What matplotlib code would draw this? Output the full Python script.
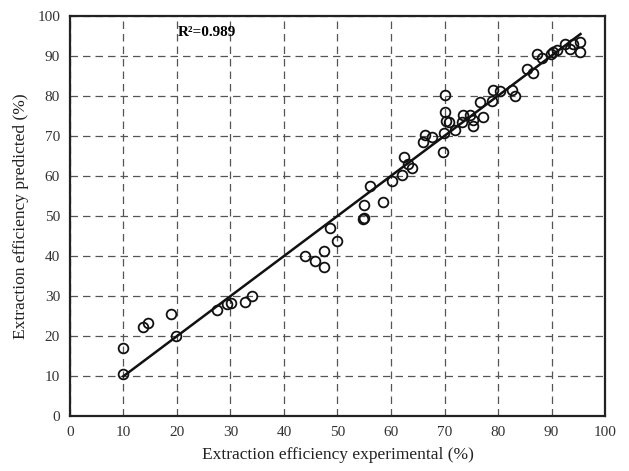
import numpy as np
import matplotlib
matplotlib.use("Agg")
import matplotlib.pyplot as plt

plt.rcParams['font.family'] = ['Liberation Serif', 'DejaVu Serif']

# experimental vs predicted extraction efficiency (%)
exp_vals = [10.0, 10.0, 13.7, 14.6, 18.9, 19.9, 27.5, 29.3, 30.2, 32.8, 34.1,
            44.0, 45.8, 47.4, 47.4, 48.6, 50.0, 54.7, 54.9, 55.0, 56.1, 58.6,
            60.1, 62.0, 62.5, 63.1, 63.9, 66.0, 66.4, 67.6, 69.7, 69.9, 70.1,
            70.1, 70.3, 70.9, 72.0, 73.2, 73.5, 74.8, 75.3, 75.4, 76.6, 77.1,
            78.8, 79.0, 80.4, 82.6, 83.1, 85.4, 86.5, 87.2, 88.2, 89.9, 90.3,
            91.1, 92.5, 93.5, 94.0, 95.3, 95.3]
pred_vals = [10.5, 17.0, 22.2, 23.2, 25.4, 20.1, 26.6, 28.0, 28.3, 28.5, 30.0,
             40.0, 38.8, 41.2, 37.2, 47.0, 43.8, 49.3, 49.5, 52.7, 57.6, 53.6,
             58.7, 60.2, 64.7, 62.9, 62.0, 68.5, 70.2, 69.7, 66.0, 70.8, 80.3,
             76.0, 73.7, 73.5, 71.4, 73.6, 75.2, 75.2, 74.0, 72.5, 78.5, 74.8,
             78.8, 81.6, 81.3, 81.4, 80.0, 86.8, 85.8, 90.6, 89.4, 90.6, 91.0,
             91.4, 92.9, 91.7, 93.1, 93.5, 91.0]

# fitted line end points
fit_x = [10.0, 95.4]
fit_y = [9.9, 95.5]

fig = plt.figure(figsize=(6.29, 4.71), dpi=100)
ax = fig.add_axes([0.111, 0.117, 0.851, 0.849])

ax.plot(fit_x, fit_y, color='#111111', lw=1.8, zorder=2)
ax.plot(exp_vals, pred_vals, 'o', mfc='none', mec='#111111', ms=7, mew=1.3, zorder=3)

ax.set_xlim(0, 100)
ax.set_ylim(0, 100)
ax.set_xticks(np.arange(0, 101, 10))
ax.set_yticks(np.arange(0, 101, 10))
ax.grid(True, ls=(0, (6, 4)), color='#555555', lw=0.9)
ax.set_axisbelow(True)
ax.tick_params(direction='in', labelsize=11, length=0, pad=7, labelcolor='#333333')
for s in ax.spines.values():
    s.set_linewidth(1.6)
    s.set_color('#222222')

ax.set_xlabel('Extraction efficiency experimental (%)', fontsize=12.5, labelpad=6, color='#222222')
ax.set_ylabel('Extraction efficiency predicted (%)', fontsize=12.5, labelpad=6, color='#222222')
ax.text(20.2, 96, 'R²=0.989', fontsize=11, fontweight='bold', va='center')

fig.savefig('out.png', dpi=100)
